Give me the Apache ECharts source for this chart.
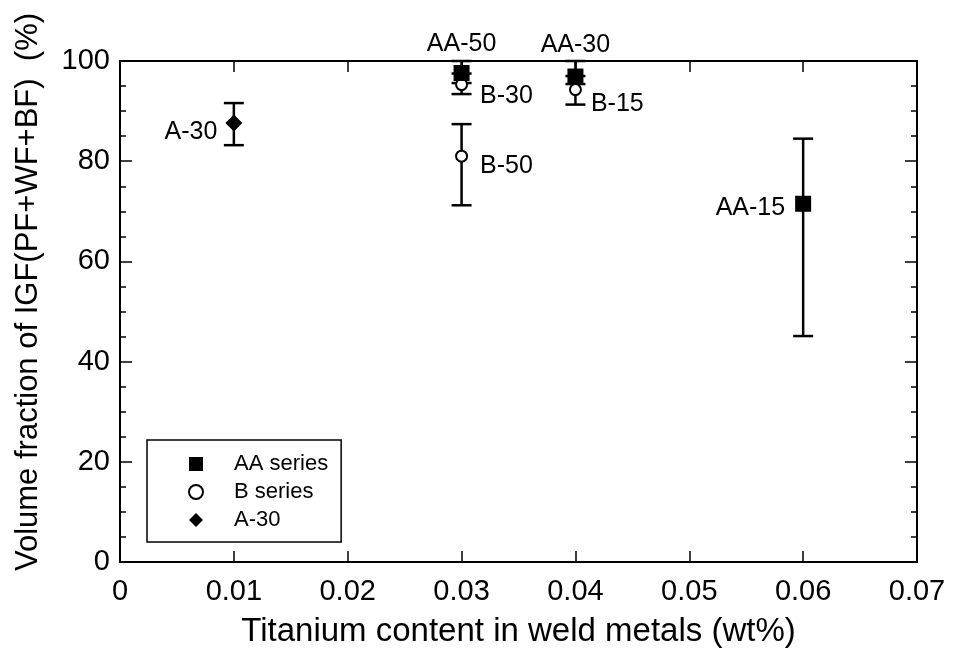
<!DOCTYPE html>
<html>
<head>
<meta charset="utf-8">
<script src="https://cdn.jsdelivr.net/npm/echarts@6/dist/echarts.min.js"></script>
<style>html,body{margin:0;padding:0;background:#fff}#c{width:954px;height:654px}</style>
</head>
<body>
<div id="c"></div>
<script>
// ---- data ----
const aaNames = ['AA-50', 'AA-30', 'AA-15'];
const aaX = [0.03, 0.04, 0.06];
const aaY = [97.6, 96.9, 71.5];
const aaLow = [95.6, 95.4, 45.1];
const aaHigh = [100, 100, 84.5];

const bNames = ['B-30', 'B-15', 'B-50'];
const bX = [0.03, 0.04, 0.03];
const bY = [95.3, 94.3, 81.0];
const bLow = [93.4, 91.3, 71.2];
const bHigh = [97.5, 97.0, 87.4];

const aNames = ['A-30'];
const aX = [0.01];
const aY = [87.6];
const aLow = [83.2];
const aHigh = [91.6];

const legendNames = ['AA series', 'B series', 'A-30'];
const xTicks = [0, 0.01, 0.02, 0.03, 0.04, 0.05, 0.06, 0.07];
const yTicks = [0, 20, 40, 60, 80, 100];

// ---- label placement (style) ----
const labelPlace = {
  'AA-50': {position: 'top', distance: 8, offset: [0, 0]},
  'AA-30': {position: 'top', distance: 8, offset: [0, -3]},
  'AA-15': {position: 'left', distance: 10, offset: [0, 4]},
  'B-30': {position: 'right', distance: 12, offset: [0, 12]},
  'B-15': {position: 'right', distance: 9, offset: [0, 15]},
  'B-50': {position: 'right', distance: 12, offset: [0, 10]},
  'A-30': {position: 'left', distance: 8, offset: [0, 9]}
};

const FONT = '"Liberation Sans", Arial, Helvetica, sans-serif';

function pts(names, xs, ys) {
  return names.map((n, i) => {
    const p = labelPlace[n];
    return {
      name: n,
      value: [xs[i], ys[i]],
      label: {show: true, formatter: n, position: p.position, distance: p.distance, offset: p.offset,
        color: '#000', fontSize: 25, fontFamily: FONT}
    };
  });
}
function errs(xs, lows, highs) {
  return xs.map((x, i) => [x, lows[i], highs[i]]);
}
function errRender(params, api) {
  const x = api.value(0);
  const lo = api.coord([x, api.value(1)]);
  const hi = api.coord([x, api.value(2)]);
  const hw = 10;
  const st = {stroke: '#000', lineWidth: 2.5, fill: null};
  return {
    type: 'group',
    children: [
      {type: 'line', shape: {x1: lo[0], y1: lo[1], x2: hi[0], y2: hi[1]}, style: st},
      {type: 'line', shape: {x1: lo[0] - hw, y1: lo[1], x2: lo[0] + hw, y2: lo[1]}, style: st},
      {type: 'line', shape: {x1: hi[0] - hw, y1: hi[1], x2: hi[0] + hw, y2: hi[1]}, style: st}
    ]
  };
}

const chart = echarts.init(document.getElementById('c'), null, {renderer: 'canvas'});

const axisLine = {show: true, onZero: false, lineStyle: {color: '#000', width: 2}};
const xTickFmt = v => {
  const r = Math.round(v * 100) / 100;
  return xTicks.indexOf(r) >= 0 ? (r === 0 ? '0' : r.toFixed(2)) : '';
};
const tickStyle = {color: '#000', width: 1.5};

const option = {
  backgroundColor: '#fff',
  animation: false,
  grid: {left: 120, right: 37, top: 61, bottom: 92, containLabel: false},
  xAxis: [
    {
      type: 'value', min: xTicks[0], max: xTicks[xTicks.length - 1], interval: 0.01,
      position: 'bottom',
      axisLine: axisLine,
      axisTick: {show: true, inside: true, length: 11, lineStyle: tickStyle},
      axisLabel: {color: '#000', fontSize: 29, fontFamily: FONT, margin: 15, formatter: xTickFmt},
      splitLine: {show: false},
      name: 'Titanium content in weld metals (wt%)', nameLocation: 'middle', nameGap: 53,
      nameTextStyle: {color: '#000', fontSize: 33, fontFamily: FONT}
    },
    {
      type: 'value', min: xTicks[0], max: xTicks[xTicks.length - 1], interval: 0.01,
      position: 'top',
      axisLine: axisLine,
      axisTick: {show: true, inside: true, length: 11, lineStyle: tickStyle},
      axisLabel: {show: false},
      splitLine: {show: false}
    }
  ],
  yAxis: [
    {
      type: 'value', min: yTicks[0], max: yTicks[yTicks.length - 1], interval: 20,
      position: 'left',
      axisLine: axisLine,
      axisTick: {show: true, inside: true, length: 12, lineStyle: tickStyle},
      minorTick: {show: true, splitNumber: 4, length: 6, lineStyle: tickStyle},
      axisLabel: {color: '#000', fontSize: 29, fontFamily: FONT, margin: 10},
      splitLine: {show: false}
    },
    {
      type: 'value', min: yTicks[0], max: yTicks[yTicks.length - 1], interval: 20,
      position: 'right',
      axisLine: axisLine,
      axisTick: {show: true, inside: true, length: 12, lineStyle: tickStyle},
      minorTick: {show: true, splitNumber: 4, length: 6, lineStyle: tickStyle},
      axisLabel: {show: false},
      splitLine: {show: false}
    }
  ],
  legend: {
    orient: 'vertical', left: 147, top: 440,
    data: [
      {name: legendNames[0], icon: 'rect', itemStyle: {color: '#000', opacity: 1}},
      {name: legendNames[1], icon: 'circle', itemStyle: {color: '#fff', borderColor: '#000', borderWidth: 2, opacity: 1}},
      {name: legendNames[2], icon: 'diamond', itemStyle: {color: '#000', opacity: 1}}
    ],
    itemWidth: 14, itemHeight: 14, itemGap: 4,
    padding: [12, 13, 10, 41],
    borderColor: '#000', borderWidth: 1.5, borderRadius: 0,
    textStyle: {color: '#000', fontSize: 22, fontFamily: FONT, lineHeight: 24, padding: [0, 0, 0, 26]},
    selectedMode: false
  },
  graphic: [
    {
      type: 'text', x: 28, y: 292, rotation: Math.PI / 2,
      style: {text: 'Volume fraction of IGF(PF+WF+BF)  (%)', fill: '#000', fontSize: 31, fontFamily: FONT,
        textAlign: 'center', textVerticalAlign: 'middle'}
    }
  ],
  series: [
    {type: 'custom', name: 'errA', renderItem: errRender, data: errs(aX, aLow, aHigh), z: 2, silent: true, clip: false},
    {type: 'custom', name: 'errB', renderItem: errRender, data: errs(bX, bLow, bHigh), z: 2, silent: true, clip: false},
    {type: 'custom', name: 'errAA', renderItem: errRender, data: errs(aaX, aaLow, aaHigh), z: 2, silent: true, clip: false},
    {
      type: 'scatter', name: legendNames[1], symbol: 'circle', symbolSize: 11,
      itemStyle: {color: '#fff', borderColor: '#000', borderWidth: 2, opacity: 1},
      data: pts(bNames, bX, bY), z: 3
    },
    {
      type: 'scatter', name: legendNames[0], symbol: 'rect', symbolSize: 16,
      itemStyle: {color: '#000', opacity: 1},
      data: pts(aaNames, aaX, aaY), z: 4
    },
    {
      type: 'scatter', name: legendNames[2], symbol: 'diamond', symbolSize: 17,
      itemStyle: {color: '#000', opacity: 1},
      data: pts(aNames, aX, aY), z: 4
    }
  ]
};
chart.setOption(option);
</script>
</body>
</html>
